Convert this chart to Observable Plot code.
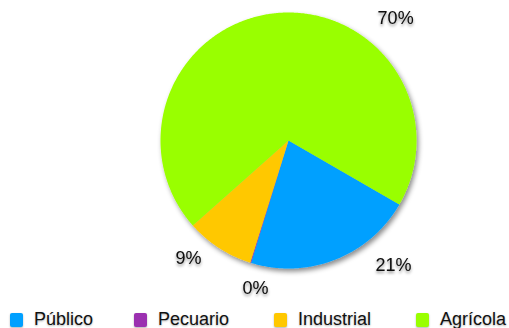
<!DOCTYPE html>
<html>
<head>
<meta charset="utf-8">
<script src="https://cdn.jsdelivr.net/npm/d3@7"></script>
<script src="https://cdn.jsdelivr.net/npm/@observablehq/plot@0.6"></script>
<style>
  html, body { margin: 0; padding: 0; background: #fff; }
  #wrap { position: relative; width: 509px; height: 328px; overflow: hidden; font-family: "Liberation Sans", Arial, sans-serif; }
  #legend { position: absolute; left: 0; top: 300px; width: 509px; height: 28px; }
  .item { position: absolute; top: 9px; display: flex; align-items: center; font-size: 18px; color: #111; text-shadow: 0 1px 2px rgba(0,0,0,0.3); }
  .sw { width: 13px; height: 14px; border-radius: 2px; margin-right: 11px; box-shadow: 0 1px 2px rgba(0,0,0,0.3); }
</style>
</head>
<body>
<div id="wrap"><div id="chart"></div><div id="legend"></div></div>
<script>
// Data
const categories = ["Público", "Pecuario", "Industrial", "Agrícola"];
const values = [21.4, 0.1, 8.6, 69.9];
const labels = ["21%", "0%", "9%", "70%"];
const colors = ["#00a0ff", "#9b30b0", "#ffc800", "#99ff00"];

// Layout (not data)
const startDeg = 120;
const labelAngleDeg = [140, 192.6, 220.3, 41.3];
const labelRadius = [1.275, 1.184, 1.208, 1.268];
const legendLeft = [10, 134, 274, 416];

const W = 509, H = 300, R = 128, CX = 288, CY = 140;

const rows = categories.map((c, i) => ({name: c, value: values[i], label: labels[i]}));
const arcs = d3.pie().sort(null).value(d => d.value)
  .startAngle(startDeg * Math.PI / 180)
  .endAngle(startDeg * Math.PI / 180 + 2 * Math.PI)(rows);

// polygon vertices for each slice (unit radius)
const verts = [];
for (const a of arcs) {
  verts.push({name: a.data.name, x: 0, y: 0});
  const n = Math.max(2, Math.ceil((a.endAngle - a.startAngle) / (Math.PI / 360)));
  for (let k = 0; k <= n; k++) {
    const t = a.startAngle + (a.endAngle - a.startAngle) * k / n;
    verts.push({name: a.data.name, x: Math.sin(t), y: Math.cos(t)});
  }
}
const labelPts = rows.map((r, i) => {
  const t = labelAngleDeg[i] * Math.PI / 180;
  return {label: r.label, x: labelRadius[i] * Math.sin(t), y: labelRadius[i] * Math.cos(t)};
});

const plot = Plot.plot({
  width: W, height: H,
  margin: 0,
  x: {domain: [-CX / R, (W - CX) / R], axis: null},
  y: {domain: [-(H - CY) / R, CY / R], axis: null},
  color: {domain: categories, range: colors},
  style: {fontFamily: "'Liberation Sans', Arial, sans-serif", background: "transparent"},
  marks: [
    Plot.line(verts, {x: "x", y: "y", z: "name", fill: "name", stroke: "none", curve: "linear"}),
    Plot.text(labelPts, {x: "x", y: "y", text: "label", fontSize: 18, fill: "#0a0a0a", textAnchor: "middle", lineAnchor: "middle"})
  ]
});
document.getElementById("chart").appendChild(plot);

const svg = d3.select(plot);
const defs = svg.insert("defs", ":first-child");
defs.append("filter").attr("id", "pieShadow").attr("x", "-20%").attr("y", "-20%").attr("width", "140%").attr("height", "140%")
  .append("feDropShadow").attr("dx", 2).attr("dy", 3).attr("stdDeviation", 2.5).attr("flood-color", "#000").attr("flood-opacity", 0.45);
defs.append("filter").attr("id", "txtShadow").attr("x", "-30%").attr("y", "-30%").attr("width", "160%").attr("height", "160%")
  .append("feDropShadow").attr("dx", 0).attr("dy", 2).attr("stdDeviation", 1.5).attr("flood-color", "#000").attr("flood-opacity", 0.45);
svg.select("g[aria-label='line']").attr("filter", "url(#pieShadow)");
svg.select("g[aria-label='text']").attr("filter", "url(#txtShadow)");

const legend = document.getElementById("legend");
categories.forEach((c, i) => {
  const it = document.createElement("div");
  it.className = "item";
  it.style.left = legendLeft[i] + "px";
  const sw = document.createElement("div");
  sw.className = "sw";
  sw.style.background = colors[i];
  it.appendChild(sw);
  const tx = document.createElement("span");
  tx.textContent = c;
  it.appendChild(tx);
  legend.appendChild(it);
});
</script>
</body>
</html>
